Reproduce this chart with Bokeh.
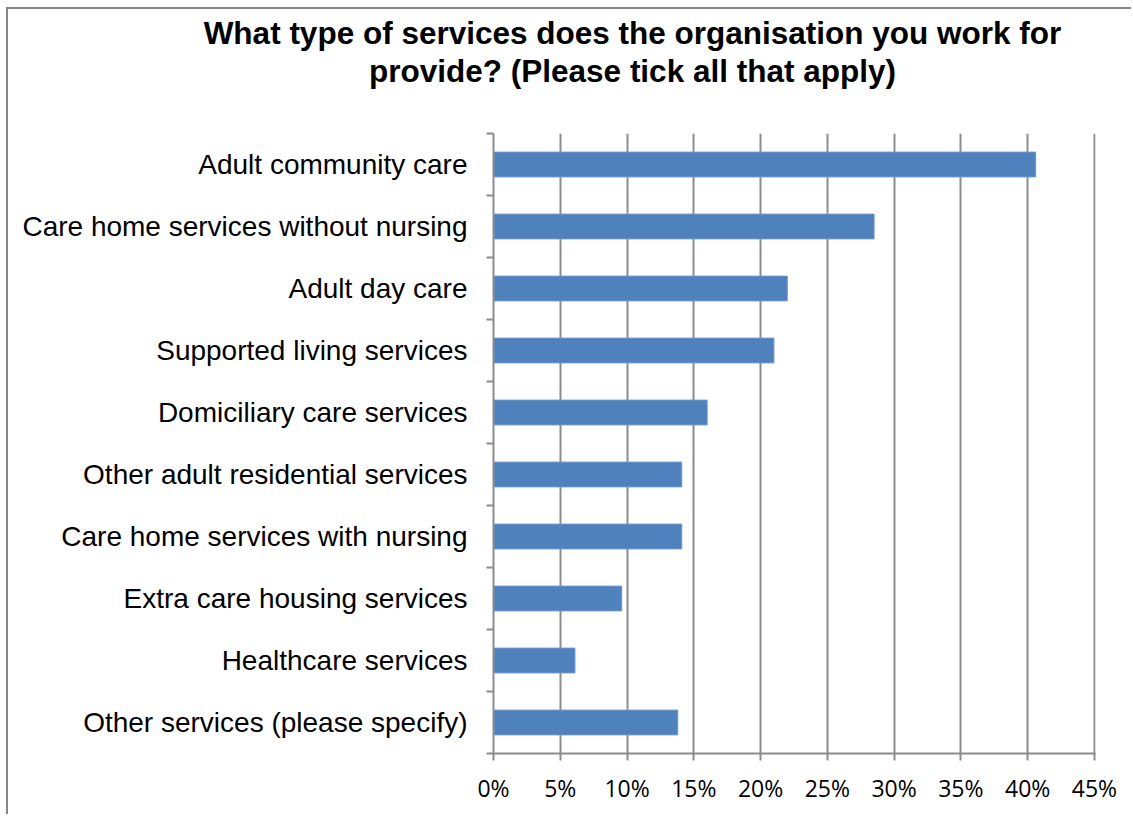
from bokeh.plotting import figure
from bokeh.models import (Range1d, FixedTicker, PrintfTickFormatter, Title,
                          ColumnDataSource)
from bokeh.embed import file_html
from bokeh.resources import INLINE

# ---- data ----
categories = [
    "Adult community care",
    "Care home services without nursing",
    "Adult day care",
    "Supported living services",
    "Domiciliary care services",
    "Other adult residential services",
    "Care home services with nursing",
    "Extra care housing services",
    "Healthcare services",
    "Other services (please specify)",
]
percentages = [40.6, 28.5, 22.0, 21.0, 16.0, 14.1, 14.1, 9.6, 6.1, 13.8]
x_ticks = [0, 5, 10, 15, 20, 25, 30, 35, 40, 45]
title_lines = [
    "What type of services does the organisation you work for",
    "provide? (Please tick all that apply)",
]

# ---- layout constants (window pixels) ----
W, H = 1133, 816
OX, OY = 8, 9                          # figure offset inside window (border sits left/top of it)
FL, FT, FW, FH = 493, 133, 602, 620    # frame left/top/width/height in window
FB = FT + FH
GRAY = "#8c8c8c"
BAR = "#4F81BD"
TITLE_SIZE = 31.5

n = len(categories)
ypos = [n - i - 0.5 for i in range(n)]
bounds = [float(b) for b in range(n + 1)]

src = ColumnDataSource(dict(y=ypos, right=percentages, cat=categories))

p = figure(frame_width=FW, frame_height=FH,
           min_border_left=FL - OX, min_border_right=W - FL - FW,
           min_border_top=FT - OY, min_border_bottom=H - FB,
           x_range=Range1d(0, x_ticks[-1] * 1.0018), y_range=Range1d(0, n),
           output_backend="svg", toolbar_location=None,
           background_fill_color="white", border_fill_color="white",
           outline_line_color=None, title_location=None)
p.margin = (OY, 0, 0, OX)
p.styles = {"box-shadow": "-2px -2px 0px 0px #878787"}

p.hbar(y="y", right="right", left=0, height=0.4, source=src,
       fill_color=BAR, line_color="#6f97cc", line_width=1)

# x axis
xa = p.xaxis[0]
xa.ticker = FixedTicker(ticks=x_ticks)
xa.formatter = PrintfTickFormatter(format="%d%%")
xa.axis_line_color = GRAY
xa.axis_line_width = 2
xa.major_tick_line_color = GRAY
xa.major_tick_line_width = 2
xa.major_tick_out = 7
xa.major_tick_in = 0
xa.minor_tick_line_color = None
xa.major_label_text_font = "Open Sans"
xa.major_label_text_font_size = "23px"
xa.major_label_text_color = "black"
xa.major_label_standoff = 11

# y axis
ya = p.yaxis[0]
ya.ticker = FixedTicker(ticks=ypos, minor_ticks=bounds)
ya.major_label_overrides = {y: c for y, c in zip(ypos, categories)}
ya.axis_line_color = GRAY
ya.axis_line_width = 2
ya.major_tick_line_color = None
ya.major_tick_out = 0
ya.major_tick_in = 0
ya.minor_tick_line_color = GRAY
ya.minor_tick_line_width = 2
ya.minor_tick_out = 7
ya.minor_tick_in = 0
ya.major_label_text_font = "Liberation Sans"
ya.major_label_text_font_size = "28px"
ya.major_label_text_color = "black"
ya.major_label_standoff = 19

p.xgrid.grid_line_color = GRAY
p.xgrid.grid_line_width = 2
p.ygrid.grid_line_color = None

# spacer between title and frame (blank title line, nearest the frame)
p.add_layout(Title(text=" ", text_font="Liberation Sans", text_font_style="bold",
                   text_font_size="39px", standoff=0), "above")

# title: two lines, left-aligned with offsets so both are centred on x=632
em_widths = [27.229, 16.728]   # Arial-bold advance widths of the two lines (em)
title_cx = 632
for line, emw in reversed(list(zip(title_lines, em_widths))):
    left = title_cx - emw * TITLE_SIZE / 2
    p.add_layout(Title(text=line, align="left", offset=left - FL,
                       text_font="Liberation Sans", text_font_style="bold",
                       text_font_size=f"{TITLE_SIZE}px", text_color="black",
                       standoff=0), "above")

open("out.html", "w").write(file_html(p, INLINE))
